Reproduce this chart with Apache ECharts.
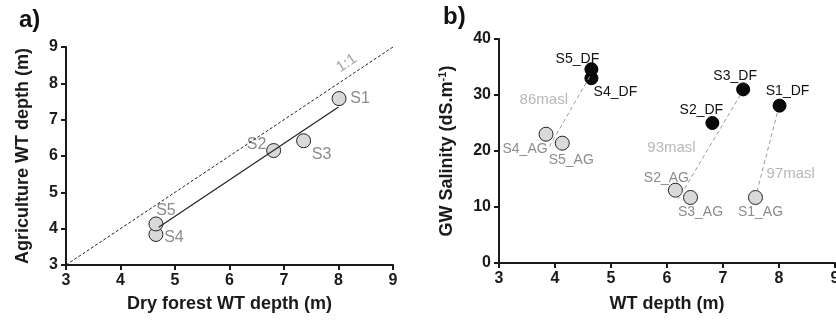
<!DOCTYPE html>
<html><head><meta charset="utf-8">
<script src="https://cdn.jsdelivr.net/npm/echarts@6/dist/echarts.min.js"></script>
<style>html,body{margin:0;padding:0;background:#fff}#c{width:836px;height:322px}</style>
</head><body><div id="c"></div>
<script>
// ---- data ----
const sites = ['S1','S2','S3','S4','S5'];
const dfDepth = [8.01, 6.81, 7.36, 4.65, 4.65];   // dry forest WT depth (m)
const agDepth = [7.58, 6.15, 6.42, 3.84, 4.13];   // agriculture WT depth (m)
const dfSal = [28.1, 25.0, 31.0, 33.0, 34.6];     // dS/m
const agSal = [11.7, 13.0, 11.7, 23.0, 21.4];     // dS/m
const fitLine = [[4.7, 4.04], [8.0, 7.35]];
const oneToOne = [[3, 3], [9, 9]];
const maslNames = ['86masl', '93masl', '97masl'];
const maslLines = [
  [[4.62, 33.3], [3.9, 20.8]],
  [[7.31, 30.0], [6.2, 11.4]],
  [[7.97, 26.8], [7.6, 12.5]]
];
const maslLabelPos = [[3.80, 29.2], [6.08, 20.6], [8.21, 15.9]];

// ---- styling (label offsets in px) ----
const FONT = 'Liberation Sans, Arial, sans-serif';
const offA = {S1: [21, 0], S2: [-17, -6], S3: [18, 14], S4: [18, 3], S5: [10, -13]};
const offDF = {S1: [8, -14], S2: [-11, -13], S3: [-8, -13], S4: [24, 14], S5: [-14, -10]};
const offAG = {S1: [5, 15], S2: [-9, -12], S3: [10, 15], S4: [-21, 15], S5: [9, 17]};

function axisCommon(extra) {
  return Object.assign({
    axisLine: {show: true, lineStyle: {color: '#1a1a1a', width: 2}},
    axisTick: {show: true, inside: false, length: 5, lineStyle: {color: '#1a1a1a', width: 2}},
    splitLine: {show: false},
    axisLabel: {color: '#1a1a1a', fontWeight: 'bold', fontSize: 16, fontFamily: FONT},
    nameLocation: 'middle',
    nameTextStyle: {color: '#1a1a1a', fontWeight: 'bold', fontSize: 18, fontFamily: FONT}
  }, extra);
}

const aPoints = sites.map((s, i) => ({
  value: [dfDepth[i], agDepth[i]], name: s,
  label: {show: true, formatter: s, position: 'inside', offset: offA[s], color: '#8c8c8c', fontSize: 16, fontFamily: FONT}
}));
const dfPoints = sites.map((s, i) => ({
  value: [dfDepth[i], dfSal[i]],
  label: {show: true, formatter: s + '_DF', position: 'inside', offset: offDF[s], color: '#111', fontSize: 14, fontFamily: FONT}
}));
const agPoints = sites.map((s, i) => ({
  value: [agDepth[i], agSal[i]],
  label: {show: true, formatter: s + '_AG', position: 'inside', offset: offAG[s], color: '#8c8c8c', fontSize: 14, fontFamily: FONT}
}));

const series = [
  {type: 'line', xAxisIndex: 0, yAxisIndex: 0, data: oneToOne, symbol: 'none', silent: true,
   lineStyle: {color: '#222', width: 1, type: [3, 2]}},
  {type: 'scatter', xAxisIndex: 0, yAxisIndex: 0, data: [{value: [8.15, 8.55]}], symbolSize: 0, silent: true,
   label: {show: true, formatter: '1:1', position: 'inside', rotate: 34, color: '#8c8c8c', fontSize: 15, fontFamily: FONT}},
  {type: 'line', xAxisIndex: 0, yAxisIndex: 0, data: fitLine, symbol: 'none', silent: true,
   lineStyle: {color: '#222', width: 1.2}},
  {type: 'scatter', xAxisIndex: 0, yAxisIndex: 0, data: aPoints, symbol: 'circle', symbolSize: 14,
   itemStyle: {color: '#d9d9d9', borderColor: '#222', borderWidth: 1, opacity: 1}}
];
maslLines.forEach((ln) => {
  series.push({type: 'line', xAxisIndex: 1, yAxisIndex: 1, data: ln, symbol: 'none', silent: true,
    lineStyle: {color: '#9a9a9a', width: 1, type: [4, 3]}});
});
series.push({type: 'scatter', xAxisIndex: 1, yAxisIndex: 1, symbolSize: 0, silent: true,
  data: maslNames.map((n, i) => ({value: maslLabelPos[i], label: {formatter: n}})),
  label: {show: true, position: 'inside', color: '#a6a6a6', fontSize: 15, fontFamily: FONT}});
series.push({type: 'scatter', xAxisIndex: 1, yAxisIndex: 1, data: agPoints, symbol: 'circle', symbolSize: 14,
  itemStyle: {color: '#d9d9d9', borderColor: '#222', borderWidth: 1, opacity: 1}});
series.push({type: 'scatter', xAxisIndex: 1, yAxisIndex: 1, data: dfPoints, symbol: 'circle', symbolSize: 13,
  itemStyle: {color: '#0a0a0a', borderColor: '#000', borderWidth: 1, opacity: 1}});

const chart = echarts.init(document.getElementById('c'), null, {renderer: 'canvas'});
chart.setOption({
  animation: false,
  backgroundColor: '#fff',
  title: [
    {text: 'a)', left: 14, top: 3, textStyle: {fontSize: 24, fontWeight: 'bold', color: '#111', fontFamily: FONT}},
    {text: 'b)', left: 438, top: 0, textStyle: {fontSize: 24, fontWeight: 'bold', color: '#111', fontFamily: FONT}}
  ],
  grid: [
    {left: 66, top: 47, width: 327, height: 218, outerBoundsMode: 'none', containLabel: false},
    {left: 499, top: 39, width: 336, height: 224, outerBoundsMode: 'none', containLabel: false}
  ],
  xAxis: [
    axisCommon({gridIndex: 0, type: 'value', min: 3, max: 9, interval: 1, name: 'Dry forest WT depth (m)', nameGap: 30}),
    axisCommon({gridIndex: 1, type: 'value', min: 3, max: 9, interval: 1, name: 'WT depth (m)', nameGap: 32})
  ],
  yAxis: [
    axisCommon({gridIndex: 0, type: 'value', min: 3, max: 9, interval: 1, name: 'Agriculture WT depth (m)', nameGap: 34}),
    axisCommon({gridIndex: 1, type: 'value', min: 0, max: 40, interval: 10, name: 'GW Salinity (dS.m{sup|-1})', nameGap: 42,
      nameTextStyle: {color: '#1a1a1a', fontWeight: 'bold', fontSize: 18, fontFamily: FONT,
        rich: {sup: {fontSize: 11, fontWeight: 'bold', color: '#1a1a1a', fontFamily: FONT, verticalAlign: 'top', padding: [0, 0, 9, 0]}}}})
  ],
  series: series
});
</script></body></html>
